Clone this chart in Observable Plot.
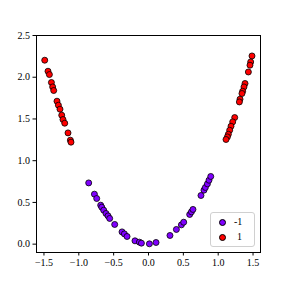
<!DOCTYPE html>
<html>
<head>
<meta charset="utf-8">
<script src="https://cdn.jsdelivr.net/npm/d3@7"></script>
<script src="https://cdn.jsdelivr.net/npm/@observablehq/plot@0.6"></script>
<style>
  html, body { margin: 0; padding: 0; background: #fff; }
  #wrap { position: relative; width: 288px; height: 288px; font-family: "Liberation Serif", "DejaVu Serif", serif; }
  #legend { position: absolute; left: 210px; top: 212px; width: 45px; height: 35px; border: 1px solid #d0d0d0; border-radius: 3px; background: rgba(255,255,255,0.8); box-sizing: border-box; font-size: 10px; color: #000; }
  .sw { position: absolute; left: 8px; width: 5px; height: 5px; border-radius: 50%; border: 0.8px solid #000; box-sizing: content-box; }
  .lb { position: absolute; line-height: 12px; }
</style>
</head>
<body>
<div id="wrap"></div>
<script>
// class -1 points
const xNeg = [-0.858, -0.776, -0.743, -0.686, -0.671, -0.643, -0.610, -0.581, -0.557, -0.485,
              -0.380, -0.346, -0.308, -0.194, -0.131, -0.102, 0.013, 0.108, 0.308, 0.400,
              0.472, 0.505, 0.591, 0.616, 0.638, 0.753, 0.796, 0.816, 0.845, 0.868, 0.893];
const yNeg = [0.734, 0.599, 0.547, 0.467, 0.443, 0.407, 0.368, 0.339, 0.308, 0.236,
              0.147, 0.123, 0.092, 0.040, 0.024, 0.012, 0.004, 0.020, 0.104, 0.176,
              0.231, 0.263, 0.356, 0.387, 0.416, 0.583, 0.647, 0.679, 0.722, 0.766, 0.811];
// class 1 points
const xPos = [-1.489, -1.442, -1.422, -1.393, -1.375, -1.360, -1.313, -1.293, -1.270, -1.245,
              -1.227, -1.202, -1.155, -1.121, -1.112,
              1.485, 1.466, 1.456, 1.433, 1.385, 1.370, 1.351, 1.341, 1.313, 1.304,
              1.237, 1.208, 1.184, 1.165, 1.146, 1.132, 1.112];
const yPos = [2.204, 2.072, 2.032, 1.937, 1.884, 1.841, 1.713, 1.665, 1.617, 1.545,
              1.493, 1.449, 1.333, 1.246, 1.222,
              2.255, 2.183, 2.144, 2.063, 1.925, 1.884, 1.832, 1.805, 1.737, 1.704,
              1.517, 1.465, 1.413, 1.365, 1.317, 1.285, 1.254];
const classes = ["-1", "1"];
const classColors = ["#8000ff", "#ff0000"];
const xTicks = [-1.5, -1.0, -0.5, 0.0, 0.5, 1.0, 1.5];
const yTicks = [0.0, 0.5, 1.0, 1.5, 2.0, 2.5];

const points = [
  ...xNeg.map((x, i) => ({x, y: yNeg[i], c: "-1"})),
  ...xPos.map((x, i) => ({x, y: yPos[i], c: "1"}))
];

const fmt = d3.format(".1f");
const chart = Plot.plot({
  width: 288,
  height: 288,
  marginLeft: 36,
  marginRight: 28,
  marginTop: 35,
  marginBottom: 36,
  style: {fontFamily: "'Liberation Serif', 'DejaVu Serif', serif", fontSize: "10px", color: "#000", background: "#fff"},
  x: {domain: [-1.607, 1.607]},
  y: {domain: [-0.1, 2.5]},
  color: {domain: classes, range: classColors},
  marks: [
    Plot.frame({stroke: "#000", strokeWidth: 1}),
    Plot.axisX({ticks: xTicks, tickFormat: fmt, tickSize: 3.5, tickPadding: 3, label: null}),
    Plot.axisY({ticks: yTicks, tickFormat: fmt, tickSize: 3.5, tickPadding: 3, label: null}),
    Plot.dot(points, {x: "x", y: "y", fill: "c", stroke: "#000", strokeWidth: 0.8, r: 3})
  ]
});
document.getElementById("wrap").appendChild(chart);

const legend = document.createElement("div");
legend.id = "legend";
classes.forEach((c, i) => {
  const sw = document.createElement("div");
  sw.className = "sw";
  sw.style.background = classColors[i];
  sw.style.top = (6 + i * 15) + "px";
  legend.appendChild(sw);
  const lb = document.createElement("div");
  lb.className = "lb";
  lb.style.left = (i === 0 ? 23 : 26) + "px";
  lb.style.top = (3 + i * 15) + "px";
  lb.textContent = c;
  legend.appendChild(lb);
});
document.getElementById("wrap").appendChild(legend);
</script>
</body>
</html>
